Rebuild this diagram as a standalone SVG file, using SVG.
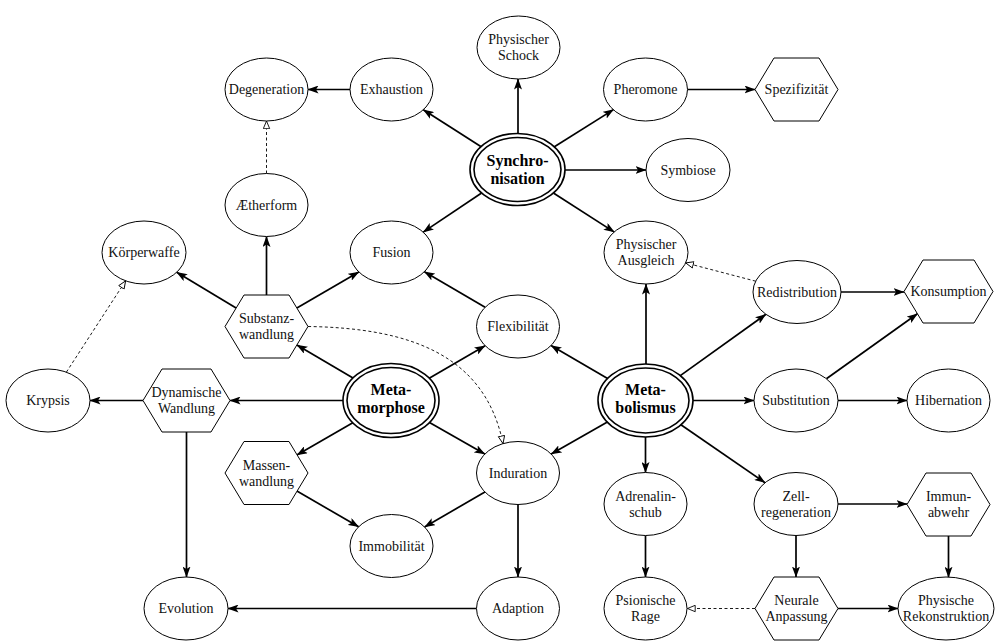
<svg xmlns="http://www.w3.org/2000/svg" width="1000" height="642" viewBox="0 0 1000 642">
<style>
.n{fill:#fff;stroke:#000;stroke-width:1}
.d{fill:none;stroke:#000;stroke-width:1.6}
.t{font-family:"Liberation Serif","DejaVu Serif",serif;font-size:14px;text-anchor:middle;fill:#111}
.b{font-family:"Liberation Serif","DejaVu Serif",serif;font-size:16px;font-weight:bold;text-anchor:middle;fill:#000}
.e{fill:none;stroke:#000;stroke-width:1.7;marker-end:url(#arr)}
.de{fill:none;stroke:#000;stroke-width:0.9;stroke-dasharray:3 2.5;marker-end:url(#oarr)}
</style>
<defs>
<marker id="arr" markerUnits="userSpaceOnUse" viewBox="0 0 11 8" markerWidth="11" markerHeight="8" refX="10.5" refY="4" orient="auto">
<path d="M0,0 L11,4 L0,8 L2.5,4 Z" fill="#000"/>
</marker>
<marker id="oarr" markerUnits="userSpaceOnUse" viewBox="0 0 9 8" markerWidth="9" markerHeight="8" refX="8.3" refY="4" orient="auto">
<path d="M0.6,0.8 L8.3,4 L0.6,7.2 Z" fill="#fff" stroke="#000" stroke-width="0.9"/>
</marker>
</defs>
<rect width="1000" height="642" fill="#fff"/>
<g id="edges">
<line class="e" x1="518" y1="133.5" x2="518" y2="79"/>
<line class="e" x1="481.2" y1="146.8" x2="423.3" y2="109.8"/>
<line class="e" x1="350" y1="89.5" x2="308" y2="89.5"/>
<line class="e" x1="554" y1="147" x2="613.5" y2="109.6"/>
<line class="e" x1="687.5" y1="89.5" x2="755" y2="89.5"/>
<line class="e" x1="565" y1="170" x2="646" y2="170"/>
<line class="e" x1="553.8" y1="193.3" x2="614.3" y2="232.1"/>
<line class="e" x1="481.2" y1="193.3" x2="423.2" y2="232.1"/>
<line class="de" x1="266.5" y1="173.5" x2="266.5" y2="121"/>
<line class="e" x1="266.5" y1="295" x2="266.5" y2="236.5"/>
<line class="e" x1="236.1" y1="308.1" x2="176.7" y2="272.3"/>
<line class="e" x1="296.9" y1="308.1" x2="358.8" y2="271.9"/>
<line class="e" x1="485.1" y1="307.3" x2="424.4" y2="271.7"/>
<line class="e" x1="353" y1="377.9" x2="296.9" y2="344.9"/>
<line class="e" x1="429.2" y1="378.2" x2="485.1" y2="345.7"/>
<line class="e" x1="343" y1="400.5" x2="230" y2="400.5"/>
<line class="e" x1="143" y1="400.5" x2="90" y2="400.5"/>
<line class="de" x1="66.4" y1="372.1" x2="125.6" y2="280.9"/>
<path class="de" d="M308,326.5 C410,328 485,355 503,443.6"/>
<line class="e" x1="352.8" y1="422.8" x2="296.9" y2="455"/>
<line class="e" x1="429.5" y1="422.5" x2="484.8" y2="454.1"/>
<line class="e" x1="296.9" y1="491" x2="358.6" y2="526.8"/>
<line class="e" x1="484.9" y1="492.1" x2="424.6" y2="526.9"/>
<line class="e" x1="518" y1="504.5" x2="518" y2="577"/>
<line class="e" x1="476.5" y1="608.5" x2="228" y2="608.5"/>
<line class="e" x1="186.5" y1="432" x2="186.5" y2="577"/>
<line class="e" x1="607.6" y1="378.5" x2="551" y2="345.6"/>
<line class="e" x1="646" y1="364" x2="646" y2="284"/>
<line class="e" x1="680.3" y1="375.6" x2="765.9" y2="314.3"/>
<line class="e" x1="693" y1="400.5" x2="754" y2="400.5"/>
<line class="e" x1="607.4" y1="422.1" x2="551.2" y2="454.1"/>
<line class="e" x1="645.5" y1="437" x2="645.5" y2="472.5"/>
<line class="e" x1="680.9" y1="424.8" x2="765" y2="482.7"/>
<line class="de" x1="755.7" y1="281.2" x2="685.7" y2="262.9"/>
<line class="e" x1="841" y1="292" x2="904" y2="292"/>
<line class="e" x1="826.4" y1="378.8" x2="917.4" y2="313.7"/>
<line class="e" x1="838" y1="400.5" x2="907" y2="400.5"/>
<line class="e" x1="838" y1="504" x2="907" y2="504"/>
<line class="e" x1="796" y1="535.5" x2="796" y2="577"/>
<line class="e" x1="948.5" y1="536" x2="948.5" y2="577.2"/>
<line class="e" x1="645.5" y1="535.5" x2="645.5" y2="577"/>
<line class="de" x1="755" y1="608.5" x2="687.5" y2="608.5"/>
<line class="e" x1="838" y1="608.5" x2="898" y2="608.5"/>
</g>
<g id="n-physischer-schock"><ellipse class="n" cx="518.5" cy="47.5" rx="41.5" ry="31.5"/><text class="t" x="518.5" y="44">Physischer</text><text class="t" x="518.5" y="60">Schock</text></g>
<g id="n-degeneration"><ellipse class="n" cx="266.5" cy="89.5" rx="41.5" ry="31.5"/><text class="t" x="266.5" y="94">Degeneration</text></g>
<g id="n-exhaustion"><ellipse class="n" cx="391.5" cy="89.5" rx="41.5" ry="31.5"/><text class="t" x="391.5" y="94">Exhaustion</text></g>
<g id="n-pheromone"><ellipse class="n" cx="645.5" cy="89.5" rx="42" ry="31.5"/><text class="t" x="645.5" y="94">Pheromone</text></g>
<g id="n-spezifizitaet"><polygon class="n" points="755,89.5 774,58 819,58 838,89.5 819,121 774,121"/><text class="t" x="796.5" y="94">Spezifizität</text></g>
<g id="n-synchronisation"><ellipse class="d" cx="517.5" cy="169.5" rx="47.5" ry="36"/><ellipse class="d" cx="517.5" cy="169.5" rx="43.5" ry="32"/><text class="b" x="517.5" y="166">Synchro-</text><text class="b" x="517.5" y="184">nisation</text></g>
<g id="n-symbiose"><ellipse class="n" cx="688" cy="170" rx="42" ry="31.5"/><text class="t" x="688" y="174.5">Symbiose</text></g>
<g id="n-aetherform"><ellipse class="n" cx="266.5" cy="205" rx="41.5" ry="31.5"/><text class="t" x="266.5" y="209.5">Ætherform</text></g>
<g id="n-koerperwaffe"><ellipse class="n" cx="144" cy="252.5" rx="42" ry="31.5"/><text class="t" x="144" y="257">Körperwaffe</text></g>
<g id="n-fusion"><ellipse class="n" cx="391.5" cy="252.5" rx="41.5" ry="31.5"/><text class="t" x="391.5" y="257">Fusion</text></g>
<g id="n-physischer-ausgleich"><ellipse class="n" cx="646" cy="252.5" rx="42" ry="31.5"/><text class="t" x="646" y="249">Physischer</text><text class="t" x="646" y="265">Ausgleich</text></g>
<g id="n-substanzwandlung"><polygon class="n" points="225,326.5 244,295 289,295 308,326.5 289,358 244,358"/><text class="t" x="266.5" y="323">Substanz-</text><text class="t" x="266.5" y="339">wandlung</text></g>
<g id="n-flexibilitaet"><ellipse class="n" cx="518" cy="326.5" rx="41.5" ry="31.5"/><text class="t" x="518" y="331">Flexibilität</text></g>
<g id="n-redistribution"><ellipse class="n" cx="797" cy="292" rx="44" ry="31.5"/><text class="t" x="797" y="296.5">Redistribution</text></g>
<g id="n-konsumption"><polygon class="n" points="904,291.5 923,260 974,260 993,291.5 974,323 923,323"/><text class="t" x="948.5" y="296">Konsumption</text></g>
<g id="n-krypsis"><ellipse class="n" cx="48" cy="400.5" rx="42" ry="31.5"/><text class="t" x="48" y="405">Krypsis</text></g>
<g id="n-dynamische-wandlung"><polygon class="n" points="143,400.5 162,369 211,369 230,400.5 211,432 162,432"/><text class="t" x="186.5" y="397">Dynamische</text><text class="t" x="186.5" y="413">Wandlung</text></g>
<g id="n-metamorphose"><ellipse class="d" cx="391" cy="400.5" rx="48" ry="37"/><ellipse class="d" cx="391" cy="400.5" rx="44" ry="33"/><text class="b" x="391" y="395">Meta-</text><text class="b" x="391" y="413">morphose</text></g>
<g id="n-metabolismus"><ellipse class="d" cx="645.5" cy="400.5" rx="47.5" ry="36.5"/><ellipse class="d" cx="645.5" cy="400.5" rx="43.5" ry="32.5"/><text class="b" x="645.5" y="395">Meta-</text><text class="b" x="645.5" y="413">bolismus</text></g>
<g id="n-substitution"><ellipse class="n" cx="796" cy="400.5" rx="42" ry="31.5"/><text class="t" x="796" y="405">Substitution</text></g>
<g id="n-hibernation"><ellipse class="n" cx="948.5" cy="400.5" rx="41.5" ry="31.5"/><text class="t" x="948.5" y="405">Hibernation</text></g>
<g id="n-massenwandlung"><polygon class="n" points="225,473 244,441.5 289,441.5 308,473 289,504.5 244,504.5"/><text class="t" x="266.5" y="469.5">Massen-</text><text class="t" x="266.5" y="485.5">wandlung</text></g>
<g id="n-induration"><ellipse class="n" cx="518" cy="473" rx="41.5" ry="31.5"/><text class="t" x="518" y="477.5">Induration</text></g>
<g id="n-adrenalinschub"><ellipse class="n" cx="645.5" cy="504" rx="41.5" ry="31.5"/><text class="t" x="645.5" y="500.5">Adrenalin-</text><text class="t" x="645.5" y="516.5">schub</text></g>
<g id="n-zellregeneration"><ellipse class="n" cx="796" cy="504" rx="42" ry="31.5"/><text class="t" x="796" y="500.5">Zell-</text><text class="t" x="796" y="516.5">regeneration</text></g>
<g id="n-immunabwehr"><polygon class="n" points="907,504.5 926,473 971,473 990,504.5 971,536 926,536"/><text class="t" x="948.5" y="501">Immun-</text><text class="t" x="948.5" y="517">abwehr</text></g>
<g id="n-immobilitaet"><ellipse class="n" cx="391.5" cy="546" rx="41.5" ry="31.5"/><text class="t" x="391.5" y="550.5">Immobilität</text></g>
<g id="n-evolution"><ellipse class="n" cx="186" cy="608.5" rx="42" ry="31.5"/><text class="t" x="186" y="613">Evolution</text></g>
<g id="n-adaption"><ellipse class="n" cx="518" cy="608.5" rx="41.5" ry="31.5"/><text class="t" x="518" y="613">Adaption</text></g>
<g id="n-psionische-rage"><ellipse class="n" cx="645.5" cy="608.5" rx="41.5" ry="31.5"/><text class="t" x="645.5" y="605">Psionische</text><text class="t" x="645.5" y="621">Rage</text></g>
<g id="n-neurale-anpassung"><polygon class="n" points="755,608.5 774,577 819,577 838,608.5 819,640 774,640"/><text class="t" x="796.5" y="605">Neurale</text><text class="t" x="796.5" y="621">Anpassung</text></g>
<g id="n-physische-rekonstruktion"><ellipse class="n" cx="946" cy="608.5" rx="48" ry="31.5"/><text class="t" x="946" y="605">Physische</text><text class="t" x="946" y="621">Rekonstruktion</text></g>
</svg>
